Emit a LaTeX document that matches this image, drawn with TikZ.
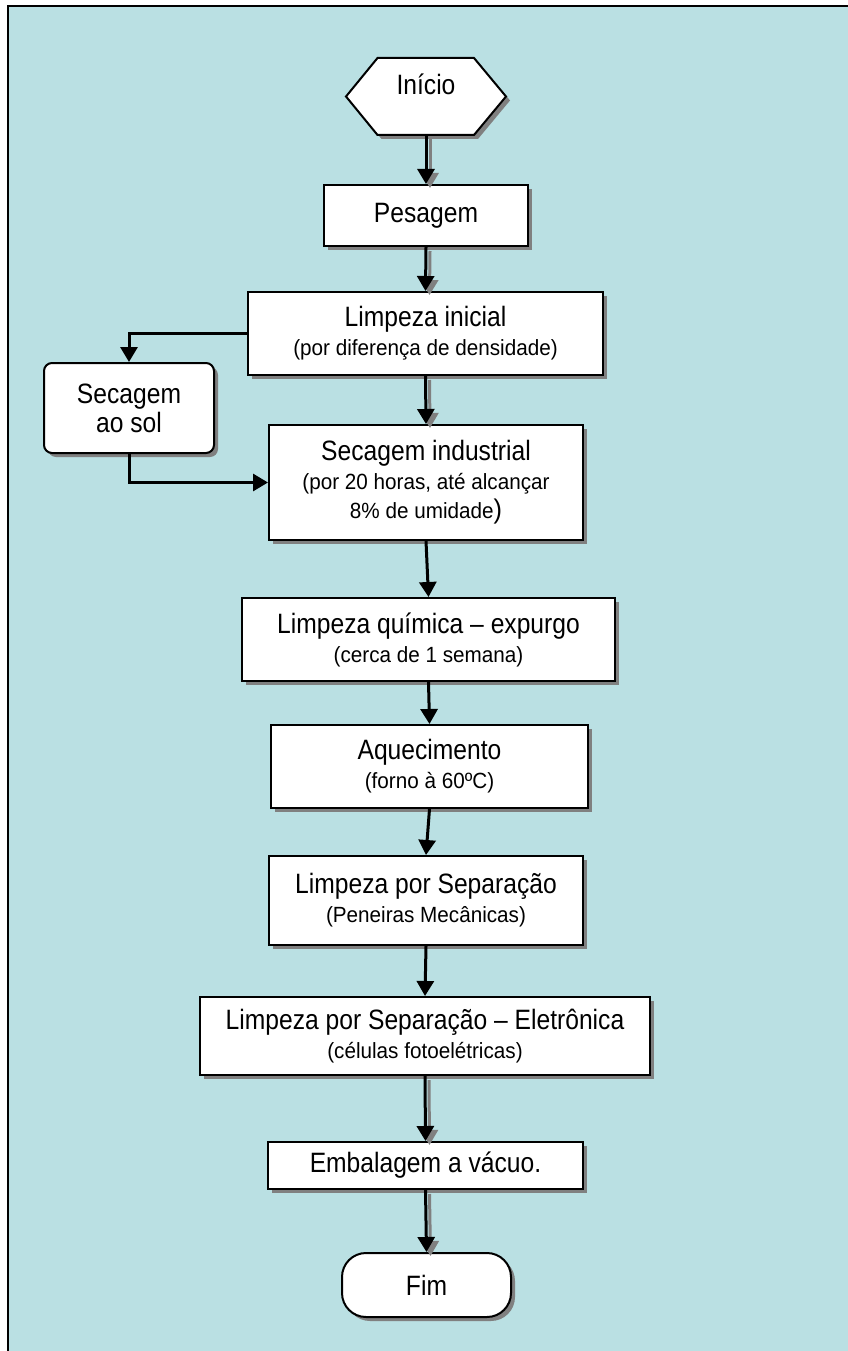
\documentclass[tikz,border=0pt]{standalone}
\usepackage{fontspec}
\setmainfont{Liberation Sans}
\newfontfamily\titlefont[FakeStretch=0.88]{Liberation Sans}
\newfontfamily\subfont[FakeStretch=0.94]{Liberation Sans}
\newcommand{\mytitle}{\titlefont\fontsize{28}{29}\selectfont}
\newcommand{\mysub}{\subfont\fontsize{22}{29}\selectfont}
\usetikzlibrary{arrows.meta,shadows}
\definecolor{bgc}{RGB}{186,224,227}
\definecolor{shd}{RGB}{128,128,128}
\begin{document}
\begin{tikzpicture}[x=1pt,y=-1pt,
  boxshadow/.style={drop shadow={shadow xshift=4pt, shadow yshift=-4pt, fill=shd, opacity=1}},
  box/.style={draw, line width=2pt, fill=white, inner sep=0pt, align=center, boxshadow, font=\mytitle},
  arr/.style={line width=3pt, -{Triangle[length=15pt,width=17pt]}},
  arrsh/.style={arr, draw=shd, fill=shd}]
\useasboundingbox (0,0) rectangle (848,1351);
\begin{scope}
  \clip (0,0) rectangle (848,1351);
  \fill[bgc] (8,6) rectangle (860,1360);
  \draw[line width=2.5pt] (8,1360) -- (8,6) -- (860,6);
\end{scope}

% start hexagon
\path[draw, line width=2pt, fill=white, boxshadow]
  (346,96.5) -- (377.5,58) -- (474,58) -- (506,96.5) -- (474,135) -- (377.5,135) -- cycle;
\node[inner sep=0pt, minimum width=160pt, minimum height=77pt, font=\mytitle] (start) at (426,96.5)
  {\raisebox{12pt}[\height][\depth]{Início}};

\node[box, minimum width=204pt, minimum height=61pt] (pes) at (426,215.5) {Pesagem};
\node[box, minimum width=355pt, minimum height=83pt] (lini) at (425.5,333.5)
  {Limpeza inicial\\{\mysub (por diferença de densidade)}};
\node[box, rounded corners=8pt, minimum width=170pt, minimum height=90pt] (sol) at (129,408)
  {Secagem\\ao sol};
\node[box, minimum width=314pt, minimum height=115pt] (sind) at (426,482.5)
  {Secagem industrial\\{\mysub (por 20 horas, até alcançar}\\{\mysub 8\% de umidade{\fontsize{27}{29}\selectfont)}}};
\node[box, minimum width=373pt, minimum height=83pt] (quim) at (428.5,639.5)
  {Limpeza química – expurgo\\{\mysub (cerca de 1 semana)}};
\node[box, minimum width=317pt, minimum height=83pt] (aq) at (429.5,766.5)
  {Aquecimento\\{\mysub (forno à 60ºC)}};
\node[box, minimum width=314pt, minimum height=89pt] (sep) at (426,900.5)
  {Limpeza por Separação\\{\mysub (Peneiras Mecânicas)}};
\node[box, minimum width=450pt, minimum height=78pt] (ele) at (425,1036)
  {Limpeza por Separação – Eletrônica\\{\mysub (células fotoelétricas)}};
\node[box, minimum width=315pt, minimum height=47pt] (emb) at (425.5,1165.5) {Embalagem a vácuo.};
\node[box, rounded corners=24pt, minimum width=169pt, minimum height=64pt] (fim) at (426.5,1285) {Fim};

% arrow shadows
\draw[arrsh] ([shift={(4,4)}]start.south) -- ([shift={(4,4)}]pes.north);
\draw[arrsh] ([shift={(4,4)}]pes.south) -- ([shift={(4,4)}]lini.north);
\draw[arrsh] ([shift={(4,4)}]lini.south) -- ([shift={(4,4)}]sind.north);
\draw[arrsh] ([shift={(4,4)}]ele.south) -- ([shift={(4,4)}]emb.north);
\draw[arrsh] ([shift={(4,4)}]emb.south) -- ([shift={(4,4)}]fim.north);

% arrows
\draw[arr] (start.south) -- (pes.north);
\draw[arr] (pes.south) -- (lini.north);
\draw[arr] (lini.south) -- (sind.north);
\draw[arr] (lini.west) -| (sol.north);
\draw[arr] (sol.south) |- (sind.west);
\draw[arr] (sind.south) -- (quim.north);
\draw[arr] (quim.south) -- (aq.north);
\draw[arr] (aq.south) -- (sep.north);
\draw[arr] (sep.south) -- (ele.north);
\draw[arr] (ele.south) -- (emb.north);
\draw[arr] (emb.south) -- (fim.north);
\end{tikzpicture}
\end{document}
